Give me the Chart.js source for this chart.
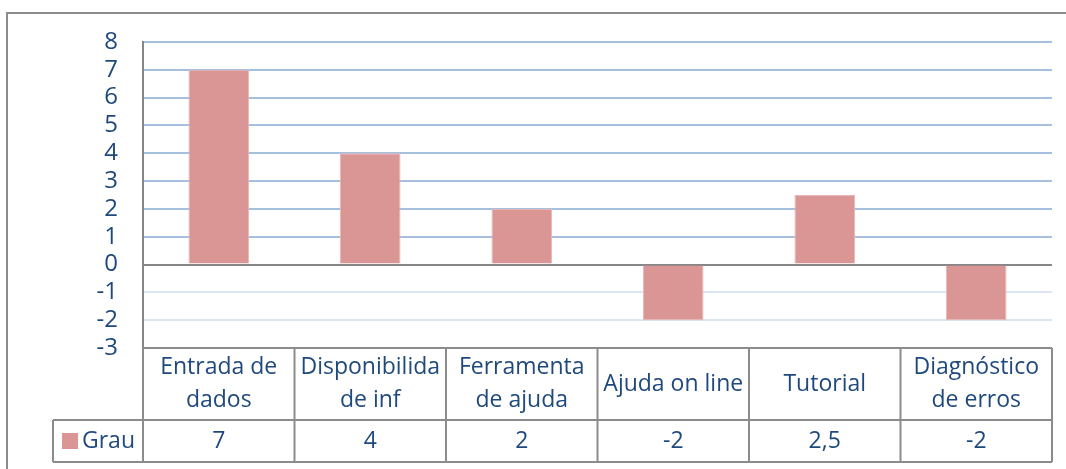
<!DOCTYPE html>
<html>
<head>
<meta charset="utf-8">
<script src="https://cdn.jsdelivr.net/npm/chart.js@4/dist/chart.umd.min.js"></script>
<style>
	body { margin: 0; background: #fff; }
	#wrap { position: relative; width: 1066px; height: 469px; }
</style>
</head>
<body>
<div id="wrap"><canvas id="grau-chart" width="1066" height="469"></canvas></div>
<script>
// data
const categories = [
	['Entrada de', 'dados'],
	['Disponibilida', 'de inf'],
	['Ferramenta', 'de ajuda'],
	['Ajuda on line'],
	['Tutorial'],
	['Diagnóstico', 'de erros']
];
const seriesName = 'Grau';
const grauValues = [7, 4, 2, -2, 2.5, -2];
const yTicks = [-3, -2, -1, 0, 1, 2, 3, 4, 5, 6, 7, 8];

const textColor = '#1F497D';
const lineGrey = '#8C8C8C';
const fontFamily = '"Open Sans", Lato, sans-serif';

function fmt(v) {
	return String(v).replace('.', ',');
}

// frame + data table under the plot
const tablePlugin = {
	id: 'dataTable',
	beforeDraw(chart) {
		const ctx = chart.ctx;
		ctx.save();
		ctx.strokeStyle = lineGrey;
		ctx.lineWidth = 2;
		ctx.beginPath();
		ctx.moveTo(7, chart.height);
		ctx.lineTo(7, 13);
		ctx.lineTo(chart.width, 13);
		ctx.stroke();
		ctx.restore();
	},
	afterDraw(chart) {
		const ctx = chart.ctx;
		const area = chart.chartArea;
		const x = chart.scales.x;
		const n = categories.length;
		const w = (area.right - area.left) / n;
		const catTop = area.bottom;
		const catBottom = catTop + 72;
		const valBottom = catBottom + 42;
		const legendLeft = 53;

		ctx.save();
		ctx.strokeStyle = lineGrey;
		ctx.lineWidth = 2;
		ctx.beginPath();
		// horizontal lines
		ctx.moveTo(area.left, catTop); ctx.lineTo(area.right, catTop);
		ctx.moveTo(legendLeft, catBottom); ctx.lineTo(area.right, catBottom);
		ctx.moveTo(legendLeft, valBottom); ctx.lineTo(area.right, valBottom);
		// vertical lines
		for (let i = 0; i <= n; i++) {
			const xx = area.left + i * w;
			ctx.moveTo(xx, catTop); ctx.lineTo(xx, valBottom);
		}
		ctx.moveTo(legendLeft, catBottom); ctx.lineTo(legendLeft, valBottom);
		ctx.stroke();

		ctx.fillStyle = textColor;
		ctx.font = '23px ' + fontFamily;
		ctx.textAlign = 'center';
		ctx.textBaseline = 'middle';
		const midCat = (catTop + catBottom) / 2;
		const midVal = (catBottom + valBottom) / 2;
		categories.forEach((lines, i) => {
			const cx = x.getPixelForValue(i);
			const lh = 33;
			const start = midCat - (lines.length - 1) * lh / 2;
			lines.forEach((t, j) => ctx.fillText(t, cx, start + j * lh));
			ctx.fillText(fmt(grauValues[i]), cx, midVal);
		});

		// legend key
		const ds = chart.data.datasets[0];
		ctx.fillStyle = ds.backgroundColor;
		ctx.fillRect(62, midVal - 8, 16, 16);
		ctx.fillStyle = textColor;
		ctx.textAlign = 'left';
		ctx.fillText(seriesName, 82, midVal);
		ctx.restore();
	}
};

new Chart(document.getElementById('grau-chart'), {
	type: 'bar',
	data: {
		labels: categories,
		datasets: [{
			label: seriesName,
			data: grauValues,
			backgroundColor: '#D99694',
			borderColor: '#E8B7B6',
			borderWidth: 1,
			categoryPercentage: 1,
			barPercentage: 0.4
		}]
	},
	options: {
		responsive: false,
		animation: false,
		layout: { padding: { left: 0, top: 42, right: 14, bottom: 121 } },
		plugins: {
			legend: { display: false },
			tooltip: { enabled: false }
		},
		scales: {
			x: { display: false },
			y: {
				min: -3,
				max: 8,
				afterBuildTicks: (scale) => {
					scale.ticks = yTicks.map(v => ({ value: v }));
				},
				afterFit: (scale) => { scale.width = 143; },
				border: { color: '#868686', width: 2 },
				grid: {
					drawTicks: false,
					color: (c) => c.tick.value === 0 ? '#868686' : (c.tick.value < 0 ? '#DCE6F2' : '#A7BFDE'),
					lineWidth: 2
				},
				ticks: {
					autoSkip: false,
					padding: 25,
					color: textColor,
					font: { family: fontFamily, size: 24 }
				}
			}
		}
	},
	plugins: [tablePlugin]
});
</script>
</body>
</html>
